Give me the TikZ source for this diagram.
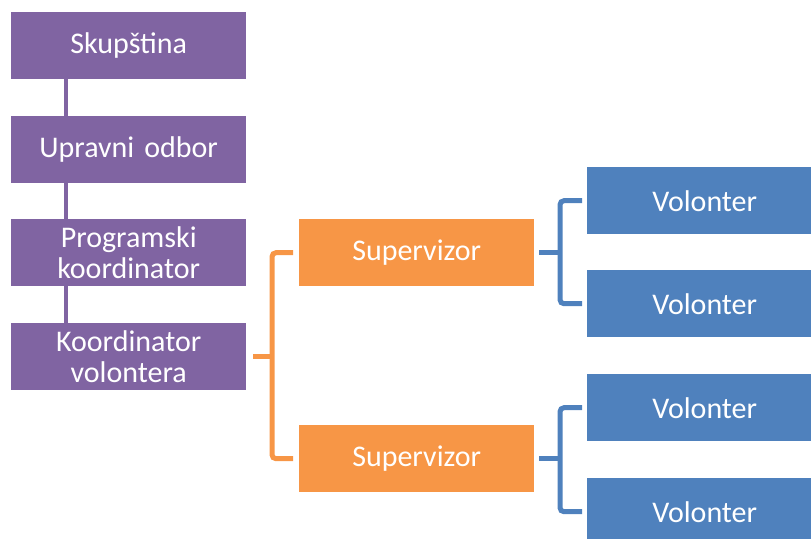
\documentclass[tikz,border=0pt]{standalone}
\usepackage{fontspec}
\setmainfont{Carlito}
\definecolor{cpurple}{HTML}{8064A2}
\definecolor{corange}{HTML}{F79646}
\definecolor{cblue}{HTML}{4F81BD}
\begin{document}
\begin{tikzpicture}[x=1pt,y=-1pt,
  box/.style={anchor=north west,minimum width=235pt,minimum height=67pt,inner sep=0pt,
    text=white,font=\fontsize{30}{31.5}\selectfont,align=center,text width=225pt},
  pbox/.style={box,fill=cpurple},
  obox/.style={box,fill=corange},
  bbox/.style={box,fill=cblue},
  pline/.style={draw=cpurple,line width=3.5pt},
  oline/.style={draw=corange,line width=5pt,rounded corners=4pt},
  bline/.style={draw=cblue,line width=5pt,rounded corners=4pt}]
\useasboundingbox (0,0) rectangle (811,538);
\clip (0,0) rectangle (811,538);
\node[pbox] (sk) at (11,12) {Skupština};
\node[pbox] (uo) at (11,116) {Upravni odbor};
\node[pbox] (pk) at (11,219) {Programski\\koordinator};
\node[pbox] (kv) at (11,323) {Koordinator\\volontera};
\node[obox] (s1) at (299,219) {Supervizor};
\node[obox] (s2) at (299,425) {Supervizor};
\node[bbox] (v1) at (587,167) {Volonter};
\node[bbox] (v2) at (587,270) {Volonter};
\node[bbox] (v3) at (587,374) {Volonter};
\node[bbox] (v4) at (587,478) {Volonter};
% purple spine
\draw[pline] ([xshift=55]sk.south west) -- ([xshift=55]uo.north west);
\draw[pline] ([xshift=55]uo.south west) -- ([xshift=55]pk.north west);
\draw[pline] ([xshift=55]pk.south west) -- ([xshift=55]kv.north west);
% orange bracket
\draw[oline] ([xshift=7]kv.east) -- ++(21,0);
\draw[oline] ([xshift=-6]s1.west) -- ++(-21,0) -- ([xshift=-27]s2.west) -- ([xshift=-6]s2.west);
% blue brackets
\draw[bline] ([xshift=5]s1.east) -- ++(22,0);
\draw[bline] ([xshift=-5]v1.west) -- ++(-22,0) -- ([xshift=-27]v2.west) -- ([xshift=-5]v2.west);
\draw[bline] ([xshift=5]s2.east) -- ++(22,0);
\draw[bline] ([xshift=-5]v3.west) -- ++(-22,0) -- ([xshift=-27]v4.west) -- ([xshift=-5]v4.west);
\end{tikzpicture}
\end{document}
